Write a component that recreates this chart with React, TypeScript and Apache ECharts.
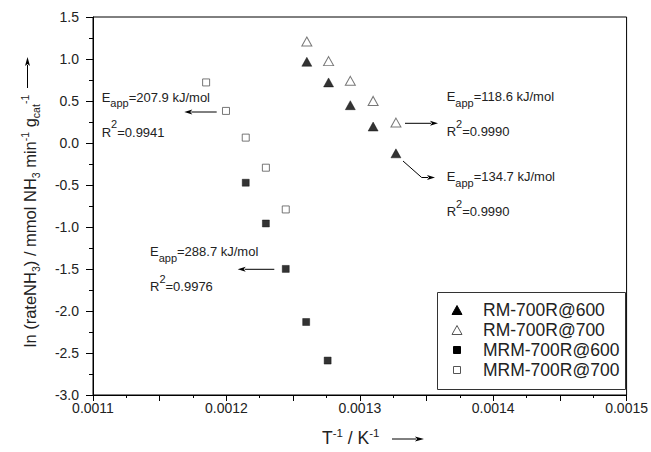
import React, { useEffect, useRef } from "react";
import * as echarts from "echarts";

// ---- data ----
const rm600X = [0.0012603, 0.0012766, 0.0012929, 0.00131, 0.0013271];
const rm600Y = [0.967, 0.721, 0.45, 0.196, -0.123];
const rm700X = [0.0012603, 0.0012766, 0.0012929, 0.00131, 0.0013271];
const rm700Y = [1.208, 0.975, 0.74, 0.501, 0.243];
const mrm600X = [0.0012145, 0.0012296, 0.0012445, 0.0012598, 0.0012759];
const mrm600Y = [-0.473, -0.958, -1.499, -2.131, -2.59];
const mrm700X = [0.0011848, 0.0011997, 0.0012145, 0.0012296, 0.0012445];
const mrm700Y = [0.721, 0.382, 0.064, -0.294, -0.791];

const seriesNames = ["RM-700R@600", "RM-700R@700", "MRM-700R@600", "MRM-700R@700"];
const eappLabels = ["207.9", "118.6", "134.7", "288.7"];
const r2Labels = ["0.9941", "0.9990", "0.9990", "0.9976"];

const FONT = "'Liberation Sans', Arial, Helvetica, sans-serif";
const TXT = "#222";

const zip = (xs: number[], ys: number[]) => xs.map((x, i) => [x, ys[i]]);

const annRich = {
  m: { fontSize: 13, lineHeight: 15, padding: [0, 0, 0, 0], verticalAlign: "top", fontFamily: FONT, color: TXT },
  sub: { fontSize: 11, lineHeight: 11, padding: [7, 0, 0, 0], verticalAlign: "top", fontFamily: FONT, color: TXT },
  m2: { fontSize: 13, lineHeight: 15, padding: [7, 0, 0, 0], verticalAlign: "top", fontFamily: FONT, color: TXT },
  sup: { fontSize: 11, lineHeight: 11, padding: [0, 0, 0, 0], verticalAlign: "top", fontFamily: FONT, color: TXT },
};

function annotation(x: number, eCenter: number, rCenter: number, i: number) {
  return [
    {
      type: "text",
      x,
      y: eCenter - 7.5,
      style: {
        text: `{m|E}{sub|app}{m|=${eappLabels[i]} kJ/mol}`,
        rich: annRich,
        fill: TXT,
        verticalAlign: "top",
        align: "left",
      },
    },
    {
      type: "text",
      x,
      y: rCenter - 14.5,
      style: {
        text: `{m2|R}{sup|2}{m2|=${r2Labels[i]}}`,
        rich: annRich,
        fill: TXT,
        verticalAlign: "top",
        align: "left",
      },
    },
  ];
}

function arrow(points: number[][], len = 8, half = 2.5) {
  const n = points.length;
  const [tx, ty] = points[n - 1];
  const [px, py] = points[n - 2];
  const d = Math.hypot(tx - px, ty - py);
  const ux = (tx - px) / d;
  const uy = (ty - py) / d;
  const bx = tx - ux * len;
  const by = ty - uy * len;
  const linePts = points.slice(0, n - 1).concat([[bx + ux * 1, by + uy * 1]]);
  return [
    { type: "polyline", shape: { points: linePts }, style: { stroke: "#000", lineWidth: 1, fill: null } },
    {
      type: "polygon",
      shape: {
        points: [
          [tx, ty],
          [bx - uy * half, by + ux * half],
          [bx + ux * 2, by + uy * 2],
          [bx + uy * half, by - ux * half],
        ],
      },
      style: { fill: "#000", stroke: null },
    },
  ];
}

const legendRows = [310, 330, 350, 370];

function legendSymbol(i: number, cx: number, cy: number) {
  if (i < 2) {
    const w = 10, h = 9;
    return {
      type: "polygon",
      shape: { points: [[cx, cy - h / 2], [cx + w / 2, cy + h / 2], [cx - w / 2, cy + h / 2]] },
      style: i === 0 ? { fill: "#000", stroke: "#000", lineWidth: 1 } : { fill: "#fff", stroke: "#555", lineWidth: 1 },
    };
  }
  const s = 7;
  return {
    type: "rect",
    shape: { x: cx - s / 2, y: cy - s / 2, width: s, height: s },
    style: i === 2 ? { fill: "#000", stroke: "#000", lineWidth: 1 } : { fill: "#fff", stroke: "#555", lineWidth: 1 },
  };
}

export default function App() {
  const ref = useRef<HTMLDivElement>(null);
  useEffect(() => {
    if (!ref.current) return;
    const chart = echarts.init(ref.current, null, { renderer: "svg" });

    const yTitleRich = {
      t: { fontSize: 16.5, lineHeight: 18, padding: [4, 0, 0, 0], verticalAlign: "top", fontFamily: FONT, color: TXT },
      s: { fontSize: 10.5, lineHeight: 10, padding: [13, 0, 0, 0], verticalAlign: "top", fontFamily: FONT, color: TXT },
      p: { fontSize: 10.5, lineHeight: 10, padding: [2, 0, 0, 0], verticalAlign: "top", fontFamily: FONT, color: TXT },
    };
    const xTitleRich = {
      t: { fontSize: 17.5, lineHeight: 19, padding: [2, 0, 0, 0], verticalAlign: "top", fontFamily: FONT, color: TXT },
      p: { fontSize: 11.5, lineHeight: 11, padding: [0, 0, 0, 0], verticalAlign: "top", fontFamily: FONT, color: TXT },
    };

    const graphic: any[] = [
      ...annotation(101.7, 98.3, 133, 0),
      ...annotation(446.7, 97.5, 132.5, 1),
      ...annotation(446.7, 177.5, 212.5, 2),
      ...annotation(150, 252.5, 287.5, 3),
      ...arrow([[216.7, 112], [184.3, 112]]),
      ...arrow([[405, 123.3], [438, 123.3]]),
      ...arrow([[403, 161], [421.7, 177.5], [435, 177.5]]),
      ...arrow([[274.3, 269.3], [237.7, 269.3]]),
      // y axis title
      {
        type: "text",
        x: 26,
        y: 221,
        rotation: Math.PI / 2,
        style: {
          text:
            "{t|ln (rateNH}{s|3}{t|) / mmol NH}{s|3}{t| min}{p|-1}{t| g}{s|cat}{p|-1}",
          rich: yTitleRich,
          align: "center",
          verticalAlign: "middle",
          fill: TXT,
        },
      },
      ...arrow([[27.5, 88], [27.5, 57]], 9, 2.5),
      // x axis title
      {
        type: "text",
        x: 322,
        y: 426.5,
        style: {
          text: "{t|T}{p|-1}{t| / K}{p|-1}",
          rich: xTitleRich,
          align: "left",
          verticalAlign: "top",
          fill: TXT,
        },
      },
      ...arrow([[392, 439], [424, 439]], 9, 2.5),
      // legend box
      {
        type: "rect",
        shape: { x: 437.5, y: 292.5, width: 188, height: 97 },
        style: { fill: "#fff", stroke: "#333", lineWidth: 1 },
        z: 10,
      },
      ...seriesNames.map((_, i) => ({ ...legendSymbol(i, 457, legendRows[i]), z: 11 })),
      ...seriesNames.map((name, i) => ({
        type: "text",
        x: 483,
        y: legendRows[i],
        z: 11,
        style: {
          text: name,
          fontSize: 17.5,
          fontFamily: FONT,
          fill: TXT,
          align: "left",
          verticalAlign: "middle",
        },
      })),
    ];

    chart.setOption({
      animation: false,
      backgroundColor: "#fff",
      grid: {
        left: 93,
        right: 20,
        top: 17,
        bottom: 57,
        show: true,
        borderColor: "#000",
        borderWidth: 1,
        containLabel: false,
      },
      xAxis: {
        type: "value",
        min: 0.0011,
        max: 0.0015,
        interval: 0.00005,
        axisLine: { show: true, onZero: false, lineStyle: { color: "#000", width: 1 } },
        axisTick: { show: true, inside: false, length: 6, lineStyle: { color: "#000" } },
        minorTick: { show: true, splitNumber: 2, length: 3, lineStyle: { color: "#000" } },
        splitLine: { show: false },
        axisLabel: {
          margin: 6,
          fontSize: 14,
          fontFamily: FONT,
          color: TXT,
          showMaxLabel: true,
          formatter: (v: number) => (Math.round(v * 1e5) % 2 === 0 ? v.toFixed(4) : ""),
        },
      },
      yAxis: {
        type: "value",
        min: -3,
        max: 1.5,
        interval: 0.5,
        axisLine: { show: true, onZero: false, lineStyle: { color: "#000", width: 1 } },
        axisTick: { show: true, inside: false, length: 7, lineStyle: { color: "#000" } },
        minorTick: { show: true, splitNumber: 2, length: 4, lineStyle: { color: "#000" } },
        splitLine: { show: false },
        axisLabel: {
          margin: 14,
          fontSize: 14,
          fontFamily: FONT,
          color: TXT,
          formatter: (v: number) => v.toFixed(1),
        },
      },
      series: [
        {
          name: seriesNames[0],
          type: "scatter",
          symbol: "triangle",
          symbolSize: [10, 9],
          data: zip(rm600X, rm600Y),
          itemStyle: { color: "#000", borderColor: "#000", borderWidth: 0.5 },
        },
        {
          name: seriesNames[1],
          type: "scatter",
          symbol: "triangle",
          symbolSize: [10, 9],
          data: zip(rm700X, rm700Y),
          itemStyle: { color: "#fff", borderColor: "#555", borderWidth: 1 },
        },
        {
          name: seriesNames[2],
          type: "scatter",
          symbol: "rect",
          symbolSize: 7,
          data: zip(mrm600X, mrm600Y),
          itemStyle: { color: "#000", borderColor: "#000", borderWidth: 0.5 },
        },
        {
          name: seriesNames[3],
          type: "scatter",
          symbol: "rect",
          symbolSize: 7,
          data: zip(mrm700X, mrm700Y),
          itemStyle: { color: "#fff", borderColor: "#555", borderWidth: 1 },
        },
      ],
      graphic,
    });
    return () => chart.dispose();
  }, []);
  return (
    <div
      ref={ref}
      style={{ position: "fixed", left: 0, top: 0, width: 651, height: 452, background: "#fff" }}
    />
  );
}
